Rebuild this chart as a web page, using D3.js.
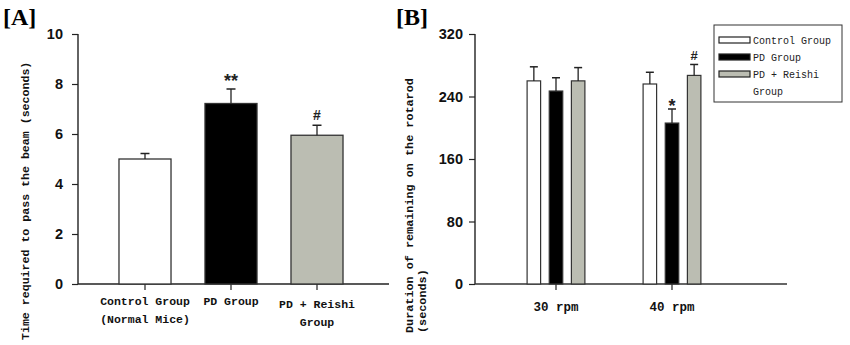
<!DOCTYPE html>
<html><head><meta charset="utf-8">
<script src="https://cdn.jsdelivr.net/npm/d3@7"></script>
<style>body{margin:0;background:#fff}svg{display:block}</style>
</head><body>
<svg id="c" width="850" height="345"></svg>
<script>
// Panel A data
const catsA = ["Control Group|(Normal Mice)", "PD Group", "PD + Reishi|Group"];
const valsA = [5.0, 7.22, 5.95];
const errA = [0.22, 0.58, 0.4];
const sigA = ["", "**", "#"];
const ticksA = [0, 2, 4, 6, 8, 10];
// Panel B data
const catsB = ["30 rpm", "40 rpm"];
const groupsB = ["Control Group", "PD Group", "PD + Reishi|Group"];
const controlB = [260, 256];
const pdB = [247, 206];
const reishiB = [260, 267];
const controlErrB = [18, 15];
const pdErrB = [17, 18];
const reishiErrB = [17, 14];
const sigB = [["", "", ""], ["", "*", "#"]];
const ticksB = [0, 80, 160, 240, 320];
const fills = ["#ffffff", "#000000", "#bbbdb2"];

const svg = d3.select("#c");
const mono = "'Liberation Mono', 'DejaVu Sans Mono', monospace";
const sans = "'Liberation Sans', Arial, sans-serif";
const serif = "'Liberation Serif', 'Times New Roman', serif";

function multiline(sel, text, lh) {
  text.split("|").forEach((t, i) => sel.append("tspan").attr("x", 0).attr("dy", i ? lh : 0).text(t));
}

// ---------- Panel A ----------
const yA = d3.scaleLinear().domain([0, 10]).range([284, 34]);
const xA = d3.scaleBand().domain(catsA).range([102, 360]).paddingInner(0.395).paddingOuter(0.1975);
const gA = svg.append("g");
gA.append("text").attr("x", 3).attr("y", 25).attr("font-family", serif).attr("font-weight", "bold")
  .attr("font-size", 24).text("[A]");
const axA = gA.append("g").attr("transform", "translate(78,0)")
  .call(d3.axisLeft(yA).tickValues(ticksA).tickSize(6).tickPadding(9).tickSizeOuter(0));
axA.select(".domain").attr("stroke", "#222").attr("stroke-width", 1.4).attr("d", "M0,284V34");
axA.selectAll(".tick line").attr("stroke", "#222").attr("stroke-width", 1.2);
axA.selectAll(".tick text").attr("font-family", sans).attr("font-weight", "bold").attr("font-size", 14.5).attr("fill", "#111");
gA.append("line").attr("x1", 78).attr("x2", 389).attr("y1", 284).attr("y2", 284).attr("stroke", "#222").attr("stroke-width", 1.4);
catsA.forEach((c, i) => {
  const cx = xA(c) + xA.bandwidth() / 2;
  gA.append("line").attr("x1", cx).attr("x2", cx).attr("y1", 284).attr("y2", 290).attr("stroke", "#222").attr("stroke-width", 1.2);
  const t = gA.append("text").attr("transform", `translate(${cx},${i === 2 ? 308 : 305})`)
    .attr("text-anchor", "middle").attr("font-family", mono).attr("font-weight", "bold").attr("font-size", 11.5).attr("fill", "#111");
  multiline(t, c, 18);
});
gA.selectAll("rect.bar").data(catsA).join("rect").attr("class", "bar")
  .attr("x", d => xA(d)).attr("width", xA.bandwidth())
  .attr("y", (d, i) => yA(valsA[i])).attr("height", (d, i) => yA(0) - yA(valsA[i]))
  .attr("fill", (d, i) => fills[i]).attr("stroke", "#333").attr("stroke-width", 1.3);
catsA.forEach((c, i) => {
  const cx = xA(c) + xA.bandwidth() / 2;
  const top = yA(valsA[i] + errA[i]);
  gA.append("line").attr("x1", cx).attr("x2", cx).attr("y1", yA(valsA[i])).attr("y2", top).attr("stroke", "#222").attr("stroke-width", 1.3);
  gA.append("line").attr("x1", cx - 4.5).attr("x2", cx + 4.5).attr("y1", top).attr("y2", top).attr("stroke", "#222").attr("stroke-width", 1.5);
  if (sigA[i]) gA.append("text").attr("x", cx).attr("y", top - (sigA[i] === "#" ? 5 : 2)).attr("text-anchor", "middle")
    .attr("font-family", sans).attr("font-weight", "bold").attr("font-size", sigA[i] === "#" ? 14 : 18).attr("fill", "#222").text(sigA[i]);
});
gA.append("text").attr("transform", "translate(29,340) rotate(-90)").attr("font-family", mono).attr("font-weight", "bold")
  .attr("font-size", 11.6).attr("fill", "#111").text("Time required to pass the beam (seconds)");

// ---------- Panel B ----------
const yB = d3.scaleLinear().domain([0, 320]).range([284, 34]);
const xB = d3.scaleBand().domain(catsB).range([498, 730]).paddingInner(0.0).paddingOuter(0.0);
const seriesB = [controlB, pdB, reishiB];
const errsB = [controlErrB, pdErrB, reishiErrB];
const gB = svg.append("g");
gB.append("text").attr("x", 396).attr("y", 25).attr("font-family", serif).attr("font-weight", "bold")
  .attr("font-size", 24).text("[B]");
const axB = gB.append("g").attr("transform", "translate(475,0)")
  .call(d3.axisLeft(yB).tickValues(ticksB).tickSize(6).tickPadding(6).tickSizeOuter(0));
axB.select(".domain").attr("stroke", "#222").attr("stroke-width", 1.4).attr("d", "M0,284V34");
axB.selectAll(".tick line").attr("stroke", "#222").attr("stroke-width", 1.2);
axB.selectAll(".tick text").attr("font-family", sans).attr("font-weight", "bold").attr("font-size", 14.5).attr("fill", "#111");
gB.append("line").attr("x1", 475).attr("x2", 787).attr("y1", 284).attr("y2", 284).attr("stroke", "#333").attr("stroke-width", 1.4);
const xInner = d3.scaleBand().domain(groupsB).range([-32, 32]).paddingInner(0.39).paddingOuter(0.14);
catsB.forEach((c, j) => {
  const gc = xB(c) + xB.bandwidth() / 2;
  gB.append("line").attr("x1", gc).attr("x2", gc).attr("y1", 284).attr("y2", 290).attr("stroke", "#222").attr("stroke-width", 1.2);
  gB.append("text").attr("x", gc).attr("y", 311).attr("text-anchor", "middle").attr("font-family", mono)
    .attr("font-weight", "bold").attr("font-size", 12.5).attr("fill", "#111").text(c);
  groupsB.forEach((g, i) => {
    const v = seriesB[i][j], e = errsB[i][j];
    const x0 = gc + xInner(g);
    const cx = x0 + xInner.bandwidth() / 2;
    gB.append("rect").attr("x", x0).attr("width", xInner.bandwidth()).attr("y", yB(v)).attr("height", yB(0) - yB(v))
      .attr("fill", fills[i]).attr("stroke", "#333").attr("stroke-width", 1.2);
    const top = yB(v + e);
    gB.append("line").attr("x1", cx).attr("x2", cx).attr("y1", yB(v)).attr("y2", top).attr("stroke", "#222").attr("stroke-width", 1.3);
    gB.append("line").attr("x1", cx - 4).attr("x2", cx + 4).attr("y1", top).attr("y2", top).attr("stroke", "#222").attr("stroke-width", 1.5);
    const s = sigB[j][i];
    if (s) gB.append("text").attr("x", cx).attr("y", top - (s === "#" ? 4 : -3)).attr("text-anchor", "middle")
      .attr("font-family", sans).attr("font-weight", "bold").attr("font-size", s === "#" ? 13 : 18).attr("fill", "#222").text(s);
  });
});
const yl = gB.append("text").attr("transform", "translate(413,333) rotate(-90)").attr("font-family", mono).attr("font-weight", "bold")
  .attr("font-size", 11.8).attr("fill", "#111");
yl.append("tspan").attr("x", 0).attr("dy", 0).text("Duration of remaining on the rotarod");
yl.append("tspan").attr("x", 0).attr("dy", 13).text("(seconds)");

// Legend
const lg = gB.append("g");
lg.append("rect").attr("x", 714).attr("y", 25).attr("width", 128).attr("height", 77).attr("fill", "#fff").attr("stroke", "#333").attr("stroke-width", 1);
const rowsY = [40, 57, 74];
groupsB.forEach((g, i) => {
  lg.append("rect").attr("x", 719).attr("y", rowsY[i] - 3).attr("width", 31).attr("height", 6)
    .attr("fill", fills[i]).attr("stroke", "#222").attr("stroke-width", 1.2);
  const t = lg.append("text").attr("transform", `translate(753,${rowsY[i] + 3.5})`).attr("font-family", mono)
    .attr("font-size", 10).attr("fill", "#222");
  multiline(t, g, 17.5);
});
</script>
</body></html>
